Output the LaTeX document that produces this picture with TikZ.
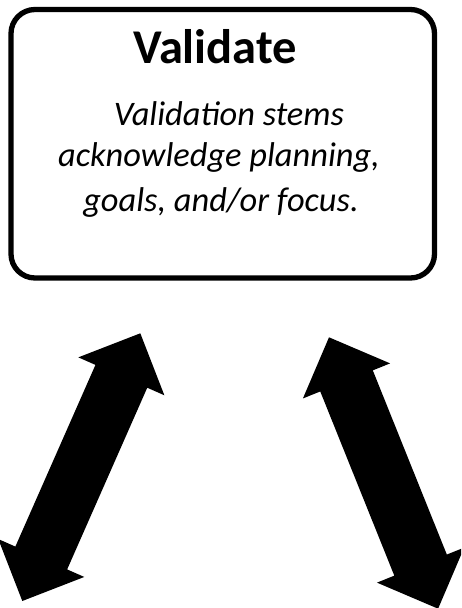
\documentclass[tikz,border=0pt]{standalone}
\usepackage{fontspec}
\setmainfont{Carlito}
\usetikzlibrary{calc}
\tikzset{
  box/.style={draw=black, line width=5.3pt, rounded corners=24pt},
  titletext/.style={anchor=base, inner sep=0pt, font=\fontsize{48.5}{58}\selectfont\bfseries},
  bodytext/.style={anchor=base, inner sep=0pt, font=\fontsize{34.4}{41}\selectfont\itshape},
  bigarrow/.style={fill=black, draw=none}
}
\newcommand\dblarrow[2]{%
  \fill[bigarrow]
    (#1)
    -- ($($(#1)!47pt!(#2)$)!47pt!90:(#2)$)
    -- ($($(#1)!47pt!(#2)$)!28.3pt!90:(#2)$)
    -- ($($(#2)!47pt!(#1)$)!28.3pt!-90:(#1)$)
    -- ($($(#2)!47pt!(#1)$)!47pt!-90:(#1)$)
    -- (#2)
    -- ($($(#2)!47pt!(#1)$)!47pt!90:(#1)$)
    -- ($($(#2)!47pt!(#1)$)!28.3pt!90:(#1)$)
    -- ($($(#1)!47pt!(#2)$)!28.3pt!-90:(#2)$)
    -- ($($(#1)!47pt!(#2)$)!47pt!-90:(#2)$)
    -- cycle;}
\begin{document}
\begin{tikzpicture}[x=1pt,y=-1pt]
  \useasboundingbox (0,0) rectangle (461,608);
  \clip (0,0) rectangle (461,608);
  \fill[white] (0,0) rectangle (461,608);
  % box
  \draw[box] (11,9.5) rectangle (434.5,278);
  \node[titletext] (title) at (215,63) {Validate};
  \node[bodytext] (l1) at (229,125.7) {Validation stems};
  \node[bodytext] (l2) at (219,166.7) {acknowledge planning,};
  \node[bodytext] (l3) at (221,211.7) {goals, and/or focus.};
  % arrows
  \coordinate (la1) at (140.3,333.3);
  \coordinate (la2) at (22.3,601);
  \coordinate (ra1) at (329,337.3);
  \coordinate (ra2) at (438.1,608.7);
  \dblarrow{la1}{la2}
  \dblarrow{ra1}{ra2}
\end{tikzpicture}
\end{document}
